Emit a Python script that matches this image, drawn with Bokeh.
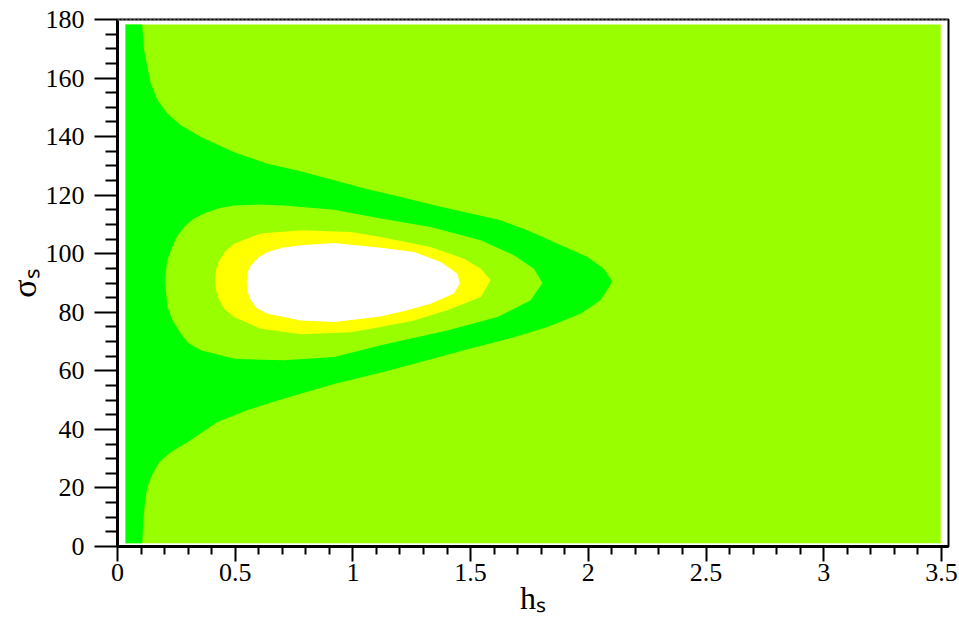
import math
from bokeh.plotting import figure
from bokeh.models import FixedTicker, Range1d, Span
from bokeh.embed import file_html
from bokeh.resources import INLINE

# ---------------- data ----------------
# sampled domain of the contour field
domain_x = [0.034, 3.497]
domain_y = [1.1, 178.3]

# level-1 boundary (dark green region), upper branch from the top edge to the tip
c1_upper_x = [0.105, 0.113, 0.127, 0.141, 0.170, 0.212, 0.269, 0.354, 0.495, 0.637,
              0.764, 0.920, 1.050, 1.203, 1.350, 1.543, 1.628, 1.755, 1.896, 1.996,
              2.066, 2.102]
c1_upper_y = [178.3, 169.5, 163.8, 158.1, 152.4, 147.9, 143.9, 139.9, 134.7, 130.7,
              128.4, 125.1, 122.3, 119.4, 116.5, 113.0, 111.4, 107.5, 102.5, 98.9,
              94.9, 90.5]
# lower branch from the tip back to the bottom edge
c1_lower_x = [2.052, 1.967, 1.826, 1.684, 1.472, 1.260, 1.150, 0.920, 0.680, 0.550,
              0.425, 0.382, 0.297, 0.226, 0.177, 0.149, 0.127, 0.116, 0.110, 0.105]
c1_lower_y = [84.1, 79.5, 75.0, 71.5, 67.0, 62.4, 60.0, 55.5, 49.9, 46.5,
              42.5, 40.2, 35.6, 32.2, 28.8, 24.8, 20.3, 14.6, 8.9, 1.1]

# level-2 closed contour (light green ring inside)
c2_x = [0.201, 0.210, 0.226, 0.250, 0.283, 0.320, 0.368, 0.430, 0.495, 0.600,
        0.707, 0.920, 1.118, 1.330, 1.543, 1.684, 1.769, 1.805, 1.755, 1.614,
        1.401, 1.118, 0.920, 0.707, 0.495, 0.354, 0.300, 0.269, 0.235, 0.212]
c2_y = [90.9, 97.0, 101.2, 105.5, 109.1, 111.8, 113.7, 115.5, 116.5, 116.8,
        116.5, 115.0, 112.0, 109.1, 104.6, 99.5, 94.9, 90.0, 84.1, 78.4,
        73.8, 68.7, 64.7, 63.6, 64.1, 67.0, 69.5, 72.7, 77.0, 81.8]

# level-3 closed contour (yellow)
c3_x = [0.413, 0.420, 0.432, 0.460, 0.495, 0.608, 0.778, 0.991, 1.118, 1.330,
        1.472, 1.543, 1.585, 1.543, 1.401, 1.260, 1.118, 0.991, 0.778, 0.608,
        0.495, 0.455, 0.432, 0.418]
c3_y = [90.9, 95.0, 97.7, 101.0, 103.4, 106.9, 108.0, 107.4, 105.7, 102.3,
        98.3, 94.9, 90.9, 85.2, 80.7, 77.2, 75.0, 73.2, 72.5, 74.4,
        78.4, 81.0, 84.1, 87.5]

# level-4 closed contour (white core)
c4_x = [0.549, 0.552, 0.566, 0.600, 0.637, 0.700, 0.778, 0.920, 1.118, 1.260,
        1.373, 1.444, 1.454, 1.429, 1.330, 1.231, 1.118, 0.920, 0.778, 0.637,
        0.590, 0.566, 0.552]
c4_y = [90.3, 93.5, 96.0, 98.8, 100.6, 102.0, 102.9, 103.7, 102.0, 100.6,
        97.2, 93.2, 89.8, 86.4, 82.9, 80.7, 78.6, 76.7, 77.2, 79.5,
        81.5, 84.1, 87.0]

level_colors = ["#99FF00", "#00FF00", "#99FF00", "#FFFF00", "#FFFFFF"]

x_ticks = [0, 0.5, 1, 1.5, 2, 2.5, 3, 3.5]
x_tick_labels = ["0", "0.5", "1", "1.5", "2", "2.5", "3", "3.5"]
y_ticks = [0, 20, 40, 60, 80, 100, 120, 140, 160, 180]

x_title = "h\u209b"        # h with subscript s
y_title = "\u03c3\u209b"   # sigma with subscript s

# ---------------- figure ----------------
p = figure(width=959, height=619, output_backend="svg", toolbar_location=None,
           x_range=Range1d(0, 3.53), y_range=Range1d(0, 180),
           min_border_left=117, min_border_right=11, min_border_top=19,
           min_border_bottom=73)
p.background_fill_color = "white"
p.border_fill_color = "white"
p.xgrid.grid_line_color = None
p.ygrid.grid_line_color = None
p.outline_line_color = "black"
p.outline_line_width = 2

# filled contour levels
p.quad(left=[domain_x[0]], right=[domain_x[1]], bottom=[domain_y[0]], top=[domain_y[1]],
       fill_color=level_colors[0], line_color=None)
p1x = [domain_x[0], domain_x[0]] + c1_upper_x + c1_lower_x
p1y = [domain_y[0], domain_y[1]] + c1_upper_y + c1_lower_y
p.patch(p1x, p1y, fill_color=level_colors[1], line_color=None)
p.patch(c2_x, c2_y, fill_color=level_colors[2], line_color=None)
p.patch(c3_x, c3_y, fill_color=level_colors[3], line_color=None)
p.patch(c4_x, c4_y, fill_color=level_colors[4], line_color=None)

# top border is drawn dotted grey/black in the reference
p.add_layout(Span(location=180, dimension="width", line_color="#999999",
                  line_width=2, line_dash="2 2"))

# axes
x_minor = [round(t / 10, 2) for t in range(0, 36) if t % 5 != 0]
y_minor = [t for t in range(0, 181, 5) if t % 20 != 0]
p.xaxis.ticker = FixedTicker(ticks=x_ticks, minor_ticks=x_minor)
p.yaxis.ticker = FixedTicker(ticks=y_ticks, minor_ticks=y_minor)
p.xaxis.major_label_overrides = {t: s for t, s in zip(x_ticks, x_tick_labels)}

for ax in (p.xaxis[0], p.yaxis[0]):
    ax.axis_line_color = "black"
    ax.axis_line_width = 3
    ax.major_tick_line_color = "black"
    ax.minor_tick_line_color = "black"
    ax.major_tick_line_width = 2
    ax.minor_tick_line_width = 2
    ax.major_tick_in = 0
    ax.minor_tick_in = 0
    ax.major_label_text_font = "Liberation Serif"
    ax.major_label_text_font_size = "26px"
    ax.major_label_text_color = "black"
    ax.axis_label_text_font = "Liberation Serif"
    ax.axis_label_text_font_style = "normal"
    ax.axis_label_text_color = "black"

p.xaxis.major_tick_out = 15
p.xaxis.minor_tick_out = 8
p.xaxis.major_label_standoff = 2
p.yaxis.major_tick_out = 23
p.yaxis.minor_tick_out = 12
p.yaxis.major_label_standoff = 10

p.xaxis.axis_label = x_title
p.xaxis.axis_label_text_font_size = "32px"
p.xaxis.axis_label_standoff = -4
p.yaxis.axis_label = y_title
p.yaxis.axis_label_text_font_size = "34px"
p.yaxis.axis_label_standoff = 0

open("out.html", "w").write(file_html(p, INLINE))
